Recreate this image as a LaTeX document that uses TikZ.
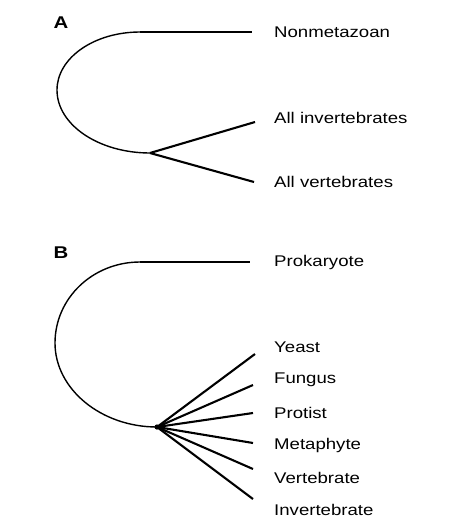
\documentclass[tikz,border=0pt]{standalone}
\usepackage{fontspec}
\setmainfont{Liberation Sans}[FakeStretch=1.2]
\begin{document}
\begin{tikzpicture}[x=1pt,y=-1pt,
  lbl/.style={anchor=west,inner sep=0pt,font=\fontsize{15.5}{18}\selectfont},
  panel/.style={inner sep=0pt,font=\fontsize{17}{18}\selectfont\bfseries},
  curve/.style={line width=1.4pt},
  branch/.style={line width=2.1pt},
  stem/.style={line width=1.8pt}]
\useasboundingbox (0,0) rectangle (456,520);
% ---------- Panel A ----------
\node[panel] (pA) at (61,23) {A};
\coordinate (aTop) at (140,32);
\coordinate (aRoot) at (150,153);
\coordinate (aE1) at (252,32);
\coordinate (aE2) at (255,122);
\coordinate (aE3) at (254,182);
\node[lbl] (nonmet) at (274,32) {Nonmetazoan};
\node[lbl] (allinv) at (274,118) {All invertebrates};
\node[lbl] (allvert) at (274,182) {All vertebrates};
\draw[curve] (aTop) .. controls (94,32) and (57,58) .. (57,90)
  .. controls (57,125) and (99,153) .. (aRoot);
\draw[stem] (aTop) -- (aE1);
\draw[branch] (aRoot) -- (aE2);
\draw[branch] (aRoot) -- (aE3);
% ---------- Panel B ----------
\node[panel] (pB) at (61,253) {B};
\coordinate (bTop) at (140,262);
\coordinate (bRoot) at (157,427);
\coordinate (bE0) at (250,262);
\coordinate (bE1) at (255,354);
\coordinate (bE2) at (253,385);
\coordinate (bE3) at (253,413);
\coordinate (bE4) at (253,443);
\coordinate (bE5) at (253,469);
\coordinate (bE6) at (253,499);
\node[lbl] (prok) at (274,262) {Prokaryote};
\node[lbl] (yeast) at (274,347) {Yeast};
\node[lbl] (fungus) at (274,380) {Fungus};
\node[lbl] (protist) at (274,413) {Protist};
\node[lbl] (metaph) at (274,445) {Metaphyte};
\node[lbl] (vert) at (274,478) {Vertebrate};
\node[lbl] (invert) at (274,510) {Invertebrate};
\draw[curve] (bTop) .. controls (93,262) and (55,298) .. (55,343)
  .. controls (55,389) and (101,427) .. (bRoot);
\draw[curve] (bTop) -- (bE0);
\foreach \e in {bE1,bE2,bE3,bE4,bE5,bE6}
  \draw[branch] (bRoot) -- (\e);
\fill (bRoot) circle (2.6pt);
\end{tikzpicture}
\end{document}
